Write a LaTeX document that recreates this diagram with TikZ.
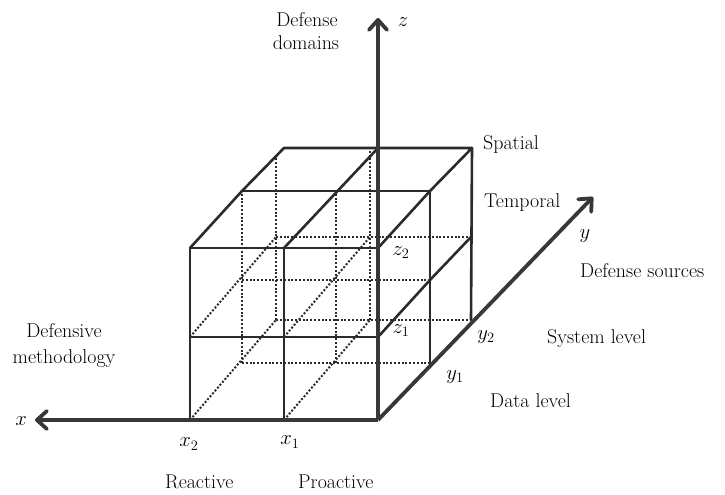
\documentclass[tikz,border=0pt]{standalone}
\usetikzlibrary{arrows.meta}
\definecolor{ink}{HTML}{2B2B2B}
\definecolor{axisink}{HTML}{383838}
\begin{document}
\begin{tikzpicture}[x=1bp,y=-1bp,
  edge/.style={draw=ink, line width=2.6bp, line cap=round, line join=round},
  hidden/.style={draw=ink, line width=2bp, dash pattern=on 2bp off 1.8bp},
  axis/.style={draw=axisink, line width=3.8bp,
    -{Straight Barb[length=10bp,width=18bp,round]}},
  lbl/.style={font=\fontsize{20}{24}\selectfont, inner sep=0pt, text=black},
  mlbl/.style={font=\fontsize{20}{24}\selectfont, inner sep=0pt, text=black},
]
\useasboundingbox (0,0) rectangle (725,495);

% axis origin and tips
\coordinate (O)    at (378,420);
\coordinate (xtip) at (35,420);
\coordinate (ztip) at (378,18);
\coordinate (ytip) at (593,197);

% front layer (y = 0)
\coordinate (f01) at (378,337); \coordinate (f02) at (378,248);
\coordinate (f10) at (284,420); \coordinate (f11) at (284,337); \coordinate (f12) at (284,248);
\coordinate (f20) at (190,420); \coordinate (f21) at (190,337); \coordinate (f22) at (190,248);
% middle layer (y = y1)
\coordinate (m00) at (430,363); \coordinate (m01) at (430,280); \coordinate (m02) at (430,191);
\coordinate (m10) at (336,363); \coordinate (m12) at (336,191);
\coordinate (m20) at (242,363); \coordinate (m21) at (242,280); \coordinate (m22) at (242,191);
% back layer (y = y2)
\coordinate (b00) at (471,320); \coordinate (b01) at (471,237); \coordinate (b02) at (472,148);
\coordinate (b12) at (378,148); \coordinate (b22) at (284,148);
% hidden back-layer points
\coordinate (h10) at (370,320); \coordinate (h11) at (370,237); \coordinate (h12) at (370,150);
\coordinate (h20) at (276,320); \coordinate (h21) at (276,237); \coordinate (h22) at (276,158);

% hidden grid lines
\draw[hidden] (m20) -- (m00);
\draw[hidden] (m21) -- (m01);
\draw[hidden] (h20) -- (b00);
\draw[hidden] (h21) -- (b01);
\draw[hidden] (m20) -- (m22);
\draw[hidden] (m10) -- (m12);
\draw[hidden] (h20) -- (h22);
\draw[hidden] (h10) -- (h12);
\draw[hidden] (f21) -- (h21);
\draw[hidden] (f11) -- (h11);
\draw[hidden] (f20) -- (h20);
\draw[hidden] (f10) -- (h10);

% front face
\draw[edge] (f20) -- (f22) -- (f02);
\draw[edge] (f10) -- (f12);
\draw[edge] (f21) -- (f01);
% top face
\draw[edge] (f22) -- (m22) -- (b22) -- (b02) -- (m02) -- (f02);
\draw[edge] (f12) -- (b12);
\draw[edge] (m22) -- (m02);
% right face
\draw[edge] (f01) -- (m01) -- (b01);
\draw[edge] (m00) -- (m02);
\draw[edge] (b00) -- (b02);

% axes
\draw[axis] (O) -- (xtip);
\draw[axis] (O) -- (ztip);
\draw[axis] (O) -- (ytip);

% axis letters and tick labels
\node[mlbl] (zlab) at (403,22) {$z$};
\node[mlbl] (ylab) at (585,236) {$y$};
\node[mlbl] (xlab) at (21,421) {$x$};
\node[mlbl] (x2lab) at (189,444) {$x_2$};
\node[mlbl] (x1lab) at (290,442) {$x_1$};
\node[mlbl] (z2lab) at (401,253) {$z_2$};
\node[mlbl] (z1lab) at (401,331) {$z_1$};
\node[mlbl] (y2lab) at (486,337) {$y_2$};
\node[mlbl] (y1lab) at (455,377) {$y_1$};

% category labels
\node[lbl, anchor=base] (dd1) at (307,27) {Defense};
\node[lbl, anchor=base] (dd2) at (306,50) {domains};
\node[lbl, anchor=base west] (spatial) at (483,150) {Spatial};
\node[lbl, anchor=base west] (temporal) at (484,208) {Temporal};
\node[lbl, anchor=base west] (dsrc) at (580,278) {Defense sources};
\node[lbl, anchor=base west] (sys) at (547,343) {System level};
\node[lbl, anchor=base west] (data) at (490,407) {Data level};
\node[lbl, anchor=base] (dm1) at (64,337) {Defensive};
\node[lbl, anchor=base] (dm2) at (64,363) {methodology};
\node[lbl, anchor=base west] (react) at (165,488) {Reactive};
\node[lbl, anchor=base west] (proact) at (298,488) {Proactive};
\end{tikzpicture}
\end{document}
